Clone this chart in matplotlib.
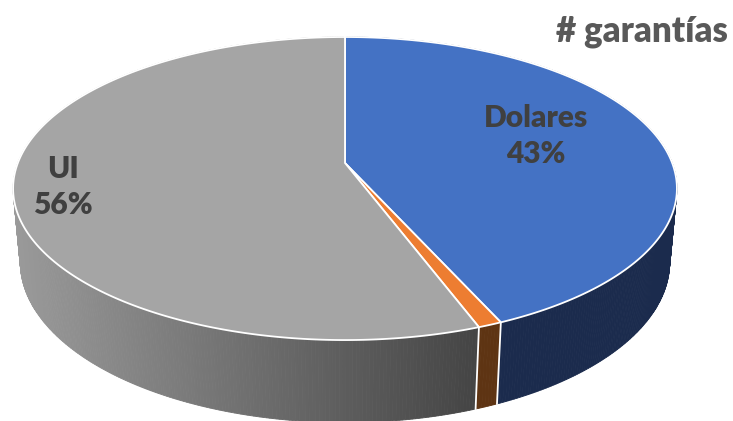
import numpy as np
import matplotlib
matplotlib.use("Agg")
import matplotlib.pyplot as plt
from matplotlib.patches import Polygon

# ---- data ----
categories = ["Dolares", "Otros", "UI"]
values = [43.4, 1.0, 55.6]
show_label = [True, False, True]
title = "# garantías"

top_colors = ["#4472C4", "#ED7D31", "#A5A5A5"]
side_colors = ["#1B2B4D", "#5E3413", None]  # None -> gradient grey

# ---- projection parameters (pixel space) ----
W, H = 733, 421
cx, cy = 345.0, 163.0
s, c = 0.45, 0.893
D = 5.30
f = 1734.0
h = 0.254


def proj(t, z):
    X = np.sin(t)
    Y = np.cos(t)
    depth = D + Y * c - z * s
    x = cx + f * X / depth
    up = f * (Y * s + z * c) / depth
    return x, cy - up, depth


fig = plt.figure(figsize=(W / 100, H / 100), dpi=100)
ax = fig.add_axes([0, 0, 1, 1])
ax.set_xlim(0, W)
ax.set_ylim(H, 0)
ax.axis("off")

total = float(sum(values))
bounds = np.concatenate([[0], np.cumsum(values) / total * 2 * np.pi])

# ---- side walls ----
quads = []
for i in range(len(values)):
    t0, t1 = bounds[i], bounds[i + 1]
    n = max(4, int((t1 - t0) / (2 * np.pi) * 720))
    ts = np.linspace(t0, t1, n + 1)
    for a, b in zip(ts[:-1], ts[1:]):
        xa, ya, _ = proj(a, 0)
        xb, yb, _ = proj(b, 0)
        xb2, yb2, _ = proj(b, -h)
        xa2, ya2, _ = proj(a, -h)
        _, _, dm = proj((a + b) / 2, -h / 2)
        if side_colors[i] is None:
            xm = (xa + xb) / 2
            v = 154 - 85 * (xm - 14) / (475 - 14)
            v = min(max(v, 60), 160) / 255.0
            col = (v, v, v)
        else:
            col = side_colors[i]
        quads.append((dm, [(xa, ya), (xb, yb), (xb2, yb2), (xa2, ya2)], col))

quads.sort(key=lambda q: -q[0])
for dm, pts, col in quads:
    ax.add_patch(Polygon(pts, closed=True, facecolor=col, edgecolor=col,
                         linewidth=0.6, zorder=1))

# vertical white edges at visible slice boundaries
for t in bounds[1:-1]:
    if np.cos(t) < 0:
        x0, y0, _ = proj(t, 0)
        x1, y1, _ = proj(t, -h)
        ax.plot([x0, x1], [y0, y1], color="white", lw=1.3, zorder=2)

# ---- top faces ----
for i in range(len(values)):
    t0, t1 = bounds[i], bounds[i + 1]
    n = max(6, int((t1 - t0) / (2 * np.pi) * 720))
    ts = np.linspace(t0, t1, n + 1)
    pts = [(cx, cy)] + [proj(t, 0)[:2] for t in ts]
    ax.add_patch(Polygon(pts, closed=True, facecolor=top_colors[i],
                         edgecolor="white", linewidth=1.3, joinstyle="miter",
                         zorder=3))

# ---- labels ----
label_pos = {"Dolares": (536, 136), "UI": (63, 187)}
for i, cat in enumerate(categories):
    if not show_label[i]:
        continue
    pct = values[i] / total * 100
    x, y = label_pos[cat]
    ax.text(x, y, f"{cat}\n{pct:.0f}%", ha="center", va="center",
            fontsize=21.5, fontweight="heavy", color="#404040",
            family=["Lato", "DejaVu Sans"], linespacing=1.32, zorder=5)

ax.text(728, 31, title, ha="right", va="center", fontsize=25,
        fontweight="heavy", color="#595959", family=["Lato", "DejaVu Sans"],
        zorder=5)

fig.savefig("out.png", dpi=100)
